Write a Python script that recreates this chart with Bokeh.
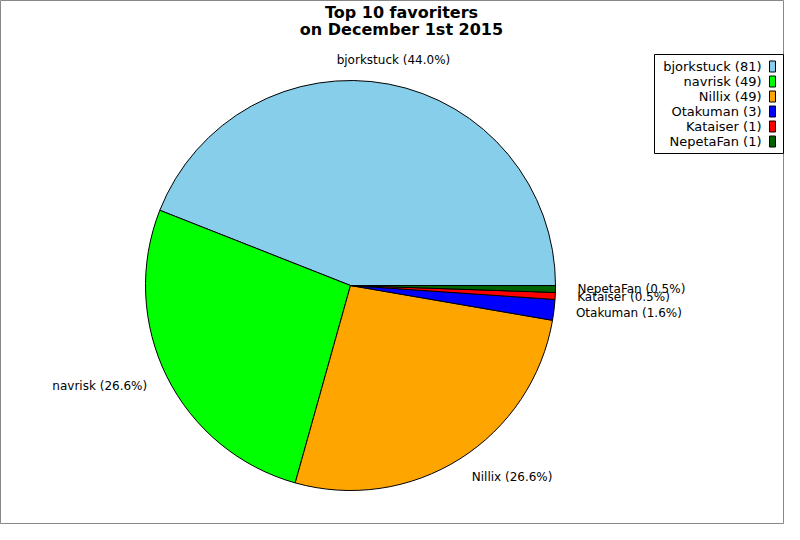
import math
from bokeh.plotting import figure
from bokeh.models import Range1d, ColumnDataSource
from bokeh.core.properties import value
from bokeh.embed import file_html
from bokeh.resources import INLINE

# ---- data ----
names = ["bjorkstuck", "navrisk", "Nillix", "Otakuman", "Kataiser", "NepetaFan"]
counts = [81, 49, 49, 3, 1, 1]
colors = ["#87CEEB", "#00FF00", "#FFA500", "#0000FF", "#FF0000", "#006400"]
title_lines = ["Top 10 favoriters", "on December 1st 2015"]

W, H = 784, 524
FONT = "DejaVu Sans"

def sy(y):  # screen y (reference px) -> data y
    return 540 - y

p = figure(width=W, height=H, x_range=Range1d(0, 784), y_range=Range1d(16, 540),
           output_backend="svg", toolbar_location=None, min_border=0)
p.axis.visible = False
p.xgrid.visible = False
p.ygrid.visible = False
p.outline_line_color = "#888888"
p.outline_line_width = 1
p.background_fill_color = "white"
p.border_fill_color = "white"

cx, cy, R = 350, sy(285), 205
total = sum(counts)
starts, ends, mids = [], [], []
acc = 0.0
for c in counts:
    a0 = acc / total * 2 * math.pi
    acc += c
    a1 = acc / total * 2 * math.pi
    starts.append(a0); ends.append(a1); mids.append((a0 + a1) / 2)

src = ColumnDataSource(dict(start=starts, end=ends, color=colors))
p.wedge(x=cx, y=cy, radius=R, start_angle="start", end_angle="end",
        fill_color="color", line_color="black", line_width=1, source=src)

# slice labels
LR = 227
lx, ly, la, lt = [], [], [], []
for n, c, m in zip(names, counts, mids):
    cs, sn = math.cos(m), math.sin(m)
    r = LR + (3 if sn > 0.9 else 0)
    lx.append(cx + r * cs)
    ly.append(cy + r * sn)
    la.append("left" if cs > 0.3 else ("right" if cs < -0.3 else "center"))
    lt.append(f"{n} ({c / total * 100:.1f}%)")
lsrc = ColumnDataSource(dict(x=lx, y=ly, t=lt, a=la))
p.text(x="x", y="y", text="t", text_align="a", text_baseline="middle",
       text_font=value(FONT), text_font_size="12px", text_color="black", source=lsrc)

# title
p.text(x=[401, 401], y=[sy(12), sy(29)], text=title_lines, text_align="center",
       text_baseline="middle", text_font=value(FONT), text_font_size="16px",
       text_font_style="bold", text_color="black")

# legend
off = 10
p.quad(left=664 - off, right=793 - off, top=sy(54), bottom=sy(153),
       fill_color="white", line_color="black", line_width=1)
rows_y = [sy(66 + 15 * i) for i in range(len(names))]
leg_txt = [f"{n} ({c})" for n, c in zip(names, counts)]
p.text(x=[771 - off] * len(names), y=rows_y, text=leg_txt, text_align="right",
       text_baseline="middle", text_font=value(FONT), text_font_size="13px",
       text_color="black")
p.rect(x=[782 - off] * len(names), y=rows_y, width=6, height=11,
       fill_color=colors, line_color="black", line_width=1)

open("out.html", "w").write(file_html(p, INLINE))
